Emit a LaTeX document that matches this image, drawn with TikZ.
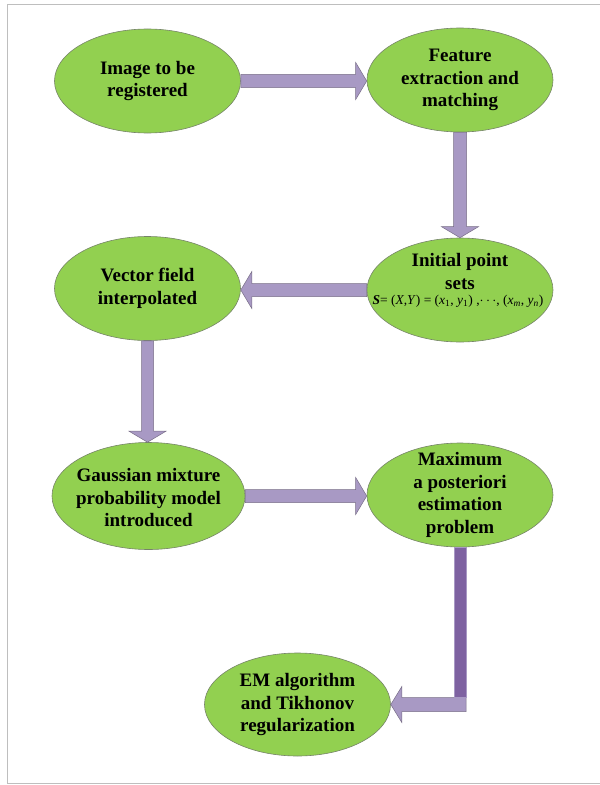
\documentclass[tikz,border=0pt]{standalone}
\usepackage{fontspec}
\setmainfont{Liberation Serif}
\usetikzlibrary{shapes.geometric,calc}
\definecolor{ellgreen}{RGB}{146,208,80}
\definecolor{ellline}{RGB}{118,132,104}
\definecolor{arrfill}{RGB}{168,153,196}
\definecolor{arrline}{RGB}{120,110,135}
\definecolor{arrdark}{RGB}{126,98,161}
\definecolor{framegray}{RGB}{190,190,190}
\tikzset{
  ell/.style={ellipse, fill=ellgreen, draw=ellline, line width=0.6bp,
    minimum width=186bp, minimum height=104bp, inner sep=0pt},
  txt/.style={align=center, inner sep=0pt,
    font=\fontsize{19bp}{22.5bp}\selectfont\bfseries},
  barrow/.style={fill=arrfill, draw=arrline, line width=0.5bp, line join=miter},
  darkshaft/.style={fill=arrdark, draw=arrfill, line width=0.6bp}
}
\begin{document}
\begin{tikzpicture}[x=1bp,y=-1bp]
\useasboundingbox (0,0) rectangle (600,785);
\draw[framegray, line width=0.8bp] (600,4.5) -- (7.5,4.5) -- (7.5,783.5) -- (600,783.5);

% ellipses
\node[ell] (img) at (147.5,81) {};
\node[ell] (feat) at (460,80) {};
\node[ell] (init) at (460,290) {};
\node[ell] (vec) at (147.5,288.5) {};
\node[ell, minimum width=193bp, minimum height=107bp] (gauss) at (148.5,496) {};
\node[ell] (max) at (460,495) {};
\node[ell, minimum height=103bp] (em) at (297.5,704.5) {};

% texts
\node[txt] (imgt) at (img) {Image to be\\registered};
\node[txt] (featt) at (feat) {Feature\\extraction and\\matching};
\node[txt] (initt) at (460,271.5) {Initial point\\sets};
\node[inner sep=0pt, font=\fontsize{13.5bp}{16bp}\selectfont] (form) at (458,301.5)
  {\textbf{\textit{S}}= (\textit{X},\textit{Y}) = (\textit{x}\textsubscript{1}, \textit{y}\textsubscript{1}) ,$\cdots$, (\textit{x}\textsubscript{\textit{m}}, \textit{y}\textsubscript{\textit{n}})};
\node[txt] (vect) at (vec) {Vector field\\interpolated};
\node[txt] (gausst) at (148.5,498) {Gaussian mixture\\probability model\\introduced};
\node[txt] (maxt) at (max) {Maximum\\a posteriori\\estimation\\problem};
\node[txt] (emt) at (em) {EM algorithm\\and Tikhonov\\regularization};

% arrow: img -> feat
\draw[barrow] let \p1=(img.east), \p2=(feat.west) in
  (\x1,\y1+6.5bp) -- (\x2-11bp,\y1+6.5bp) -- (\x2-11bp,\y1+18.5bp) -- (\x2,\y1)
  -- (\x2-11bp,\y1-18.5bp) -- (\x2-11bp,\y1-6.5bp) -- (\x1,\y1-6.5bp) -- cycle;
% arrow: feat -> init
\draw[barrow] let \p1=(feat.south), \p2=(init.north) in
  (\x1-6.5bp,\y1) -- (\x1-6.5bp,\y2+11bp) -- (\x1-18.5bp,\y2+11bp) -- (\x1,\y2)
  -- (\x1+18.5bp,\y2+11bp) -- (\x1+6.5bp,\y2+11bp) -- (\x1+6.5bp,\y1) -- cycle;
% arrow: init -> vec
\draw[barrow] let \p1=(init.west), \p2=(vec.east) in
  (\x1,\y1+6.5bp) -- (\x2+11bp,\y1+6.5bp) -- (\x2+11bp,\y1+18.5bp) -- (\x2,\y1)
  -- (\x2+11bp,\y1-18.5bp) -- (\x2+11bp,\y1-6.5bp) -- (\x1,\y1-6.5bp) -- cycle;
% arrow: vec -> gauss
\draw[barrow] let \p1=(vec.south), \p2=(gauss.north) in
  (\x1-6bp,\y1) -- (\x1-6bp,\y2+11bp) -- (\x1-18.5bp,\y2+11bp) -- (\x1,\y2)
  -- (\x1+18.5bp,\y2+11bp) -- (\x1+6bp,\y2+11bp) -- (\x1+6bp,\y1) -- cycle;
% arrow: gauss -> max
\draw[barrow] let \p1=(gauss.east), \p2=(max.west) in
  (\x1,\y1+6.5bp) -- (\x2-11bp,\y1+6.5bp) -- (\x2-11bp,\y1+18.5bp) -- (\x2,\y1)
  -- (\x2-11bp,\y1-18.5bp) -- (\x2-11bp,\y1-6.5bp) -- (\x1,\y1-6.5bp) -- cycle;
% elbow arrow: max -> em
\draw[barrow] let \p1=(max.south), \p2=(em.east) in
  (\x1+6bp,\y2+7bp) -- (\x2+11bp,\y2+7bp) -- (\x2+11bp,\y2+18bp) -- (\x2,\y2)
  -- (\x2+11bp,\y2-18bp) -- (\x2+11bp,\y2-7bp) -- (\x1+6bp,\y2-7bp) -- cycle;
\draw[darkshaft] let \p1=(max.south), \p2=(em.east) in
  (\x1-6bp,\y1) rectangle (\x1+6bp,\y2+7bp);
\end{tikzpicture}
\end{document}
